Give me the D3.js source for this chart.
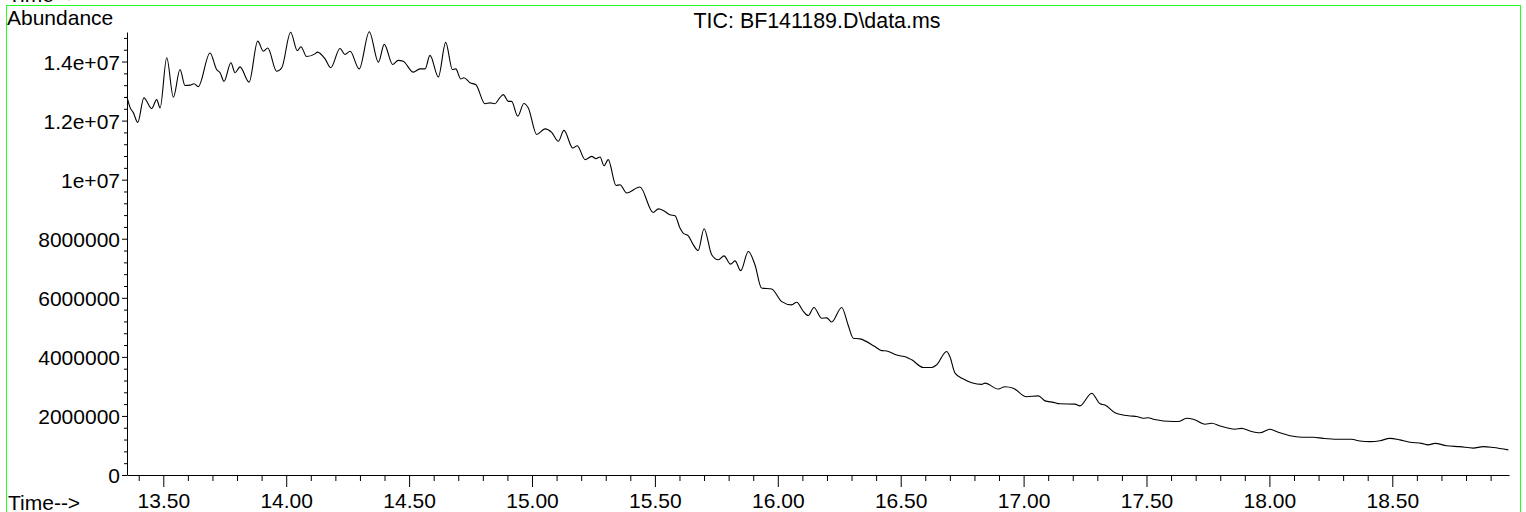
<!DOCTYPE html>
<html>
<head>
<meta charset="utf-8">
<script src="https://cdn.jsdelivr.net/npm/d3@7"></script>
<style>
  html, body { margin: 0; padding: 0; background: #fff; }
  svg { display: block; }
  text { font-family: "Liberation Sans", Arial, sans-serif; }
</style>
</head>
<body>
<svg id="chart" width="1526" height="512"></svg>
<script>
// ---------- data ----------
const title = "TIC: BF141189.D\\data.ms";
const yLabel = "Abundance";
const xLabel = "Time-->";

const times = [
  13.352, 13.365, 13.378, 13.396, 13.421, 13.453, 13.473, 13.487, 13.514, 13.541,
  13.568, 13.588, 13.609, 13.625, 13.642, 13.690, 13.717, 13.731, 13.747, 13.775,
  13.792, 13.812, 13.849, 13.884, 13.907, 13.925, 13.961, 13.982, 14.018, 14.045,
  14.060, 14.083, 14.117, 14.127, 14.158, 14.181, 14.219, 14.239, 14.260, 14.297,
  14.338, 14.375, 14.399, 14.433, 14.456, 14.476, 14.517, 14.544, 14.565, 14.585,
  14.619, 14.649, 14.676, 14.690, 14.710, 14.723, 14.748, 14.771, 14.809, 14.829,
  14.849, 14.867, 14.883, 14.904, 14.917, 14.942, 14.967, 14.985, 15.019, 15.053,
  15.080, 15.107, 15.130, 15.166, 15.184, 15.216, 15.243, 15.260, 15.277, 15.293,
  15.310, 15.342, 15.358, 15.385, 15.439, 15.493, 15.514, 15.534, 15.561, 15.582,
  15.602, 15.615, 15.636, 15.656, 15.676, 15.700, 15.731, 15.758, 15.781, 15.808,
  15.826, 15.849, 15.880, 15.907, 15.934, 15.975, 16.016, 16.056, 16.077, 16.104,
  16.124, 16.147, 16.178, 16.199, 16.219, 16.260, 16.286, 16.307, 16.334, 16.395,
  16.423, 16.443, 16.484, 16.524, 16.545, 16.592, 16.626, 16.646, 16.687, 16.700,
  16.721, 16.755, 16.829, 16.843, 16.897, 16.924, 16.958, 17.012, 17.060, 17.087,
  17.121, 17.148, 17.209, 17.229, 17.277, 17.311, 17.331, 17.372, 17.433, 17.460,
  17.487, 17.507, 17.528, 17.609, 17.629, 17.663, 17.690, 17.738, 17.765, 17.799,
  17.860, 17.887, 17.921, 17.962, 18.002, 18.036, 18.084, 18.131, 18.178, 18.219,
  18.274, 18.335, 18.368, 18.409, 18.450, 18.490, 18.531, 18.572, 18.619, 18.646,
  18.674, 18.721, 18.775, 18.829, 18.870, 18.911, 18.972
];

const abundance = [
  12.81e6, 12.44e6, 12.27e6, 11.94e6, 12.77e6, 12.41e6, 12.71e6, 12.43e6, 14.13e6, 12.79e6,
  13.73e6, 13.19e6, 13.20e6, 13.25e6, 13.15e6, 14.29e6, 13.73e6, 13.62e6, 13.33e6, 13.96e6,
  13.62e6, 13.82e6, 13.30e6, 14.69e6, 14.35e6, 14.46e6, 13.67e6, 13.79e6, 14.99e6, 14.37e6,
  14.50e6, 14.17e6, 14.26e6, 14.32e6, 14.09e6, 13.79e6, 14.44e6, 14.24e6, 14.35e6, 13.75e6,
  15.01e6, 13.98e6, 14.58e6, 13.90e6, 14.04e6, 14.01e6, 13.64e6, 13.75e6, 13.75e6, 14.21e6,
  13.48e6, 14.65e6, 13.73e6, 13.75e6, 13.41e6, 13.45e6, 13.28e6, 13.22e6, 12.57e6, 12.60e6,
  12.57e6, 12.75e6, 12.88e6, 12.65e6, 12.65e6, 12.15e6, 12.58e6, 12.43e6, 11.53e6, 11.72e6,
  11.60e6, 11.30e6, 11.67e6, 11.07e6, 11.15e6, 10.68e6, 10.79e6, 10.71e6, 10.77e6, 10.47e6,
  10.68e6, 9.80e6, 9.83e6, 9.55e6, 9.75e6, 8.89e6, 9.01e6, 8.96e6, 8.81e6, 8.78e6,
  8.36e6, 8.19e6, 8.10e6, 7.80e6, 7.60e6, 8.34e6, 7.46e6, 7.29e6, 7.42e6, 7.14e6,
  7.25e6, 6.92e6, 7.57e6, 7.12e6, 6.33e6, 6.30e6, 5.87e6, 5.76e6, 5.85e6, 5.54e6,
  5.40e6, 5.67e6, 5.31e6, 5.32e6, 5.18e6, 5.67e6, 5.08e6, 4.63e6, 4.61e6, 4.35e6,
  4.21e6, 4.20e6, 4.06e6, 3.99e6, 3.90e6, 3.64e6, 3.64e6, 3.73e6, 4.18e6, 4.01e6,
  3.45e6, 3.25e6, 3.07e6, 3.11e6, 2.91e6, 2.99e6, 2.94e6, 2.65e6, 2.68e6, 2.51e6,
  2.46e6, 2.41e6, 2.40e6, 2.34e6, 2.77e6, 2.41e6, 2.37e6, 2.11e6, 2.00e6, 1.98e6,
  1.92e6, 1.94e6, 1.89e6, 1.81e6, 1.81e6, 1.92e6, 1.89e6, 1.72e6, 1.75e6, 1.66e6,
  1.55e6, 1.58e6, 1.49e6, 1.43e6, 1.55e6, 1.45e6, 1.33e6, 1.28e6, 1.28e6, 1.24e6,
  1.21e6, 1.21e6, 1.15e6, 1.13e6, 1.16e6, 1.24e6, 1.19e6, 1.11e6, 1.07e6, 1.02e6,
  1.07e6, 0.99e6, 0.96e6, 0.91e6, 0.96e6, 0.93e6, 0.85e6
];

const xTickValues = [13.5, 14.0, 14.5, 15.0, 15.5, 16.0, 16.5, 17.0, 17.5, 18.0, 18.5];
const xTickLabels = ["13.50", "14.00", "14.50", "15.00", "15.50", "16.00", "16.50", "17.00", "17.50", "18.00", "18.50"];
const xMinorTicks = [13.4, 13.6, 13.7, 13.8, 13.9, 14.1, 14.2, 14.3, 14.4, 14.6, 14.7, 14.8, 14.9,
  15.1, 15.2, 15.3, 15.4, 15.6, 15.7, 15.8, 15.9, 16.1, 16.2, 16.3, 16.4, 16.6, 16.7, 16.8, 16.9,
  17.1, 17.2, 17.3, 17.4, 17.6, 17.7, 17.8, 17.9, 18.1, 18.2, 18.3, 18.4, 18.6, 18.7, 18.8, 18.9];

const yTickValues = [0, 2e6, 4e6, 6e6, 8e6, 10e6, 12e6, 14e6];
const yTickLabels = ["0", "2000000", "4000000", "6000000", "8000000", "1e+07", "1.2e+07", "1.4e+07"];
const yMinorTicks = [0.4e6, 0.8e6, 1.2e6, 1.6e6, 2.4e6, 2.8e6, 3.2e6, 3.6e6, 4.4e6, 4.8e6, 5.2e6, 5.6e6,
  6.4e6, 6.8e6, 7.2e6, 7.6e6, 8.4e6, 8.8e6, 9.2e6, 9.6e6, 10.4e6, 10.8e6, 11.2e6, 11.6e6,
  12.4e6, 12.8e6, 13.2e6, 13.6e6, 14.4e6, 14.8e6];

const xDomain = [13.3523, 18.9748];
const yDomain = [0, 15e6];

// ---------- layout ----------
const svg = d3.select("#chart");
const plot = { left: 127, right: 1509, top: 32, bottom: 475 };
const FONT = 21;

const x = d3.scaleLinear().domain(xDomain).range([plot.left, plot.right]);
const y = d3.scaleLinear().domain(yDomain).range([plot.bottom, plot.top]);

// green frame
const green = "#22ff22";
svg.append("line").attr("x1", 6.5).attr("x2", 1520.5).attr("y1", 5.5).attr("y2", 5.5)
  .attr("stroke", green).attr("stroke-width", 1);
svg.append("line").attr("x1", 6.5).attr("x2", 6.5).attr("y1", 5).attr("y2", 512)
  .attr("stroke", green).attr("stroke-width", 1);
svg.append("line").attr("x1", 1520.5).attr("x2", 1520.5).attr("y1", 5).attr("y2", 512)
  .attr("stroke", green).attr("stroke-width", 1);

// clipped "Time-->" of the panel above
svg.append("text").attr("x", 8).attr("y", 2).attr("font-size", FONT).attr("fill", "#000").text(xLabel);

// texts
svg.append("text").attr("x", 7).attr("y", 25).attr("font-size", FONT).attr("fill", "#000").text(yLabel);
svg.append("text").attr("x", 817).attr("y", 28).attr("text-anchor", "middle")
  .attr("font-size", 21.4).attr("fill", "#000").text(title);
svg.append("text").attr("x", 8).attr("y", 510).attr("font-size", FONT).attr("fill", "#000").text(xLabel);

// x axis minor
svg.append("g").attr("transform", `translate(0,${plot.bottom})`)
  .call(d3.axisBottom(x).tickValues(xMinorTicks).tickSize(6).tickSizeOuter(0).tickFormat(""))
  .call(g => g.select(".domain").remove());
// x axis major
const gx = svg.append("g").attr("transform", `translate(0,${plot.bottom})`)
  .call(d3.axisBottom(x).tickValues(xTickValues).tickSize(12).tickSizeOuter(0).tickPadding(6)
    .tickFormat((d, i) => xTickLabels[i]));
gx.selectAll("text").attr("font-size", FONT).attr("font-family", "Liberation Sans, Arial, sans-serif").attr("fill", "#000");

// y axis minor
svg.append("g").attr("transform", `translate(${plot.left},0)`)
  .call(d3.axisLeft(y).tickValues(yMinorTicks).tickSize(3).tickSizeOuter(0).tickFormat(""))
  .call(g => g.select(".domain").remove());
// y axis major
const gy = svg.append("g").attr("transform", `translate(${plot.left},0)`)
  .call(d3.axisLeft(y).tickValues(yTickValues).tickSize(5).tickSizeOuter(0).tickPadding(2)
    .tickFormat((d, i) => yTickLabels[i]));
gy.selectAll("text").attr("font-size", FONT).attr("font-family", "Liberation Sans, Arial, sans-serif")
  .attr("fill", "#000").attr("dy", "0.38em");

svg.selectAll(".tick line, .domain").attr("stroke", "#000");

// trace
const data = times.map((t, i) => ({ t, v: abundance[i] }));
const line = d3.line().x(d => x(d.t)).y(d => y(d.v)).curve(d3.curveMonotoneX);
svg.append("path").datum(data).attr("d", line)
  .attr("fill", "none").attr("stroke", "#000").attr("stroke-width", 1.1)
  .attr("stroke-linejoin", "round");
</script>
</body>
</html>
